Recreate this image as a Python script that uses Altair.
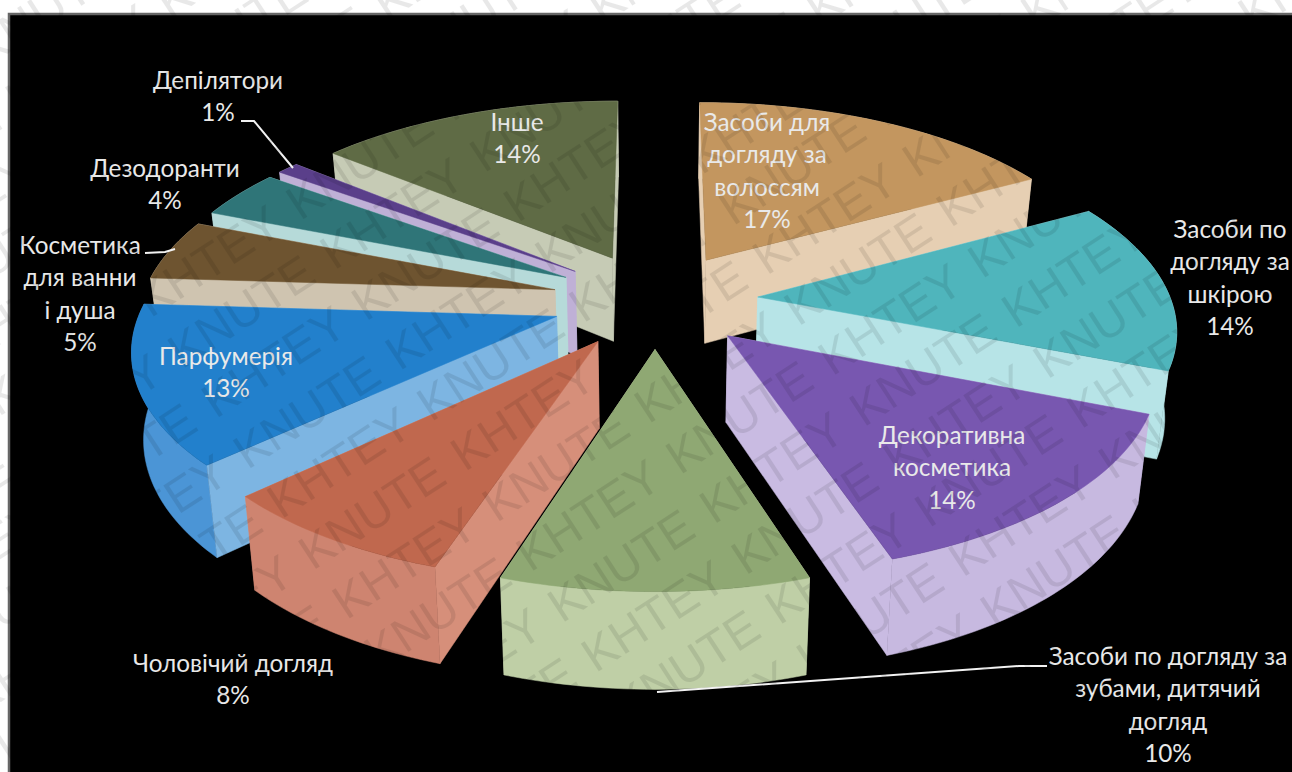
import math
import altair as alt
import pandas as pd

# Market shares of cosmetic product groups, in percent, clockwise from the top
shares = [17, 14, 14, 10, 8, 13, 5, 4, 1, 14]
top_colors = ["#C3965F", "#4FB5BC", "#7857B0", "#8FA873", "#C0684E",
              "#2280CC", "#6E5430", "#2F7578", "#5A3F8A", "#5F6B45"]
side_colors = ["#E6CFB3", "#B7E4E7", "#C9BBE2", "#C4D3AC", "#D68F7A",
               "#7DB5E2", "#CFC4B0", "#B6DAD9", "#BFB0D6", "#C6CBB5"]
rim_colors = ["#E6CFB3", "#B7E4E7", "#C7B9E0", "#BFCFA6", "#CE8470",
              "#4B95D6", "#CFC4B0", "#B6DAD9", "#BFB0D6", "#C6CBB5"]
# Slices are painted back to front
paint_order = [9, 8, 7, 6, 5, 0, 1, 2, 4, 3]

category_lines = [
    ["Засоби для", "догляду за", "волоссям"],
    ["Засоби по", "догляду за", "шкірою"],
    ["Декоративна", "косметика"],
    ["Засоби по догляду за", "зубами, дитячий", "догляд"],
    ["Чоловічий догляд"],
    ["Парфумерія"],
    ["Косметика", "для ванни", "і душа"],
    ["Дезодоранти"],
    ["Депілятори"],
    ["Інше"],
]
label_anchor_x = [767, 1230, 952, 1168, 233, 226, 80, 165, 218, 517]
label_anchor_y = [124, 231, 437, 658, 665, 358, 247, 170, 82, 124]
line_step = 32.3

# Exploded pie geometry: disc of radius 1 seen in perspective from above
CX, CY, SX, SY, PERSP = 655.0, 300.0, 413.0, 191.0, 0.145
EXPLODE, THICK, BOTTOM_SHRINK = 0.25, 85.0, 0.977


def project(wx, wy, lower=False):
    s = 1.0 / (1.0 - PERSP * wy)
    x, y = SX * wx * s, SY * wy * s
    if lower:
        return CX + x * BOTTOM_SHRINK, CY + y + THICK * s ** 0.7
    return CX + x, CY + y


rows = []
poly_id = 0


def add_poly(points, color):
    global poly_id
    for i, (x, y) in enumerate(points):
        rows.append({"poly": poly_id, "idx": i, "x": x, "y": y, "color": color})
    poly_id += 1


def wall(world):
    return [project(*p) for p in world] + [project(*p, lower=True) for p in reversed(world)]


starts = [sum(shares[:i]) for i in range(len(shares))]
for k in paint_order:
    a0 = math.radians(starts[k] * 3.6)
    a1 = math.radians((starts[k] + shares[k]) * 3.6)
    mid = (a0 + a1) / 2
    ox, oy = EXPLODE * math.sin(mid), -EXPLODE * math.cos(mid)
    n = max(4, shares[k] * 3)
    rim = [(ox + math.sin(a0 + (a1 - a0) * i / n), oy - math.cos(a0 + (a1 - a0) * i / n))
           for i in range(n + 1)]

    walls = [([(ox, oy), rim[0]], side_colors[k]),
             ([(ox, oy), rim[-1]], side_colors[k]),
             (rim, rim_colors[k])]
    walls.sort(key=lambda w: sum(p[1] for p in w[0]) / len(w[0]))
    for w, color in walls:
        add_poly(wall(w), color)
    add_poly([project(ox, oy)] + [project(*p) for p in rim], top_colors[k])

geom = pd.DataFrame(rows)

x_scale = alt.Scale(domain=[0, 1292], range=[0, 1292], nice=False, zero=False)
y_scale = alt.Scale(domain=[0, 772], range=[0, 772], nice=False, zero=False)
X = lambda f: alt.X(f, type="quantitative", scale=x_scale, axis=None)
Y = lambda f: alt.Y(f, type="quantitative", scale=y_scale, axis=None)

panel = alt.Chart(pd.DataFrame({"x": [9], "x2": [1300], "y": [14], "y2": [780]})).mark_rect(
    color="#000000", stroke="#666666", strokeWidth=2.5
).encode(x=X("x"), x2="x2", y=Y("y"), y2="y2")

slices = alt.Chart(geom).mark_line(strokeWidth=0.5, interpolate="linear-closed").encode(
    x=X("x"), y=Y("y"), order=alt.Order("idx:Q"),
    detail="poly:N",
    fill=alt.Fill("color:N", scale=None),
    stroke=alt.Stroke("color:N", scale=None),
)

# Leader lines
leader_rows = [
    (0, 0, 241, 121), (0, 1, 254, 121), (0, 2, 293, 168),
    (1, 0, 145, 253), (1, 1, 165, 252), (1, 2, 175, 249),
    (2, 0, 1047, 666), (2, 1, 1019, 666), (2, 2, 657, 692),
]
leaders = alt.Chart(pd.DataFrame(leader_rows, columns=["g", "i", "x", "y"])).mark_line(
    color="#F2F2F2", strokeWidth=2
).encode(x=X("x"), y=Y("y"), order="i:Q", detail="g:N")

# Slice captions
text_rows = []
for k, lines in enumerate(category_lines):
    for j, line in enumerate(lines + [f"{shares[k]}%"]):
        text_rows.append({"t": line, "x": label_anchor_x[k], "y": label_anchor_y[k] + j * line_step})
labels = alt.Chart(pd.DataFrame(text_rows)).mark_text(
    font="Lato, Noto Sans", fontSize=24.3, color="#E9E9E9", baseline="middle", align="center"
).encode(x=X("x"), y=Y("y"), text="t:N")

# Diagonal watermark, staggered word by word over the whole page
WM_TILT = 33
WM_WORDS = ["KNUTE", "KHTEY"]
WM_ROW, WM_STEP = 60, 180
ux, uy = math.cos(math.radians(WM_TILT)), -math.sin(math.radians(WM_TILT))
vx, vy = -uy, ux
wm_rows = []
for r in range(-24, 12):
    for c in range(-14, 14):
        px = 1055 + r * WM_ROW * vx + c * WM_STEP * ux
        py = 573 + r * WM_ROW * vy + c * WM_STEP * uy
        if -80 < px < 1372 and -80 < py < 852:
            wm_rows.append({"t": WM_WORDS[(r + c) % 2], "x": px, "y": py})
watermark = alt.Chart(pd.DataFrame(wm_rows)).mark_text(
    font="Liberation Sans", fontSize=48, color="#000000", opacity=0.085,
    angle=360 - WM_TILT, align="center", baseline="middle"
).encode(x=X("x"), y=Y("y"), text="t:N")

chart = alt.layer(panel, slices, leaders, labels, watermark).properties(
    width=1292, height=772, padding=0, autosize=alt.AutoSizeParams(type="none"),
    background="#FFFFFF"
).configure_view(stroke=None)

chart.save("out.html", embed_options={"renderer": "svg", "actions": False})
